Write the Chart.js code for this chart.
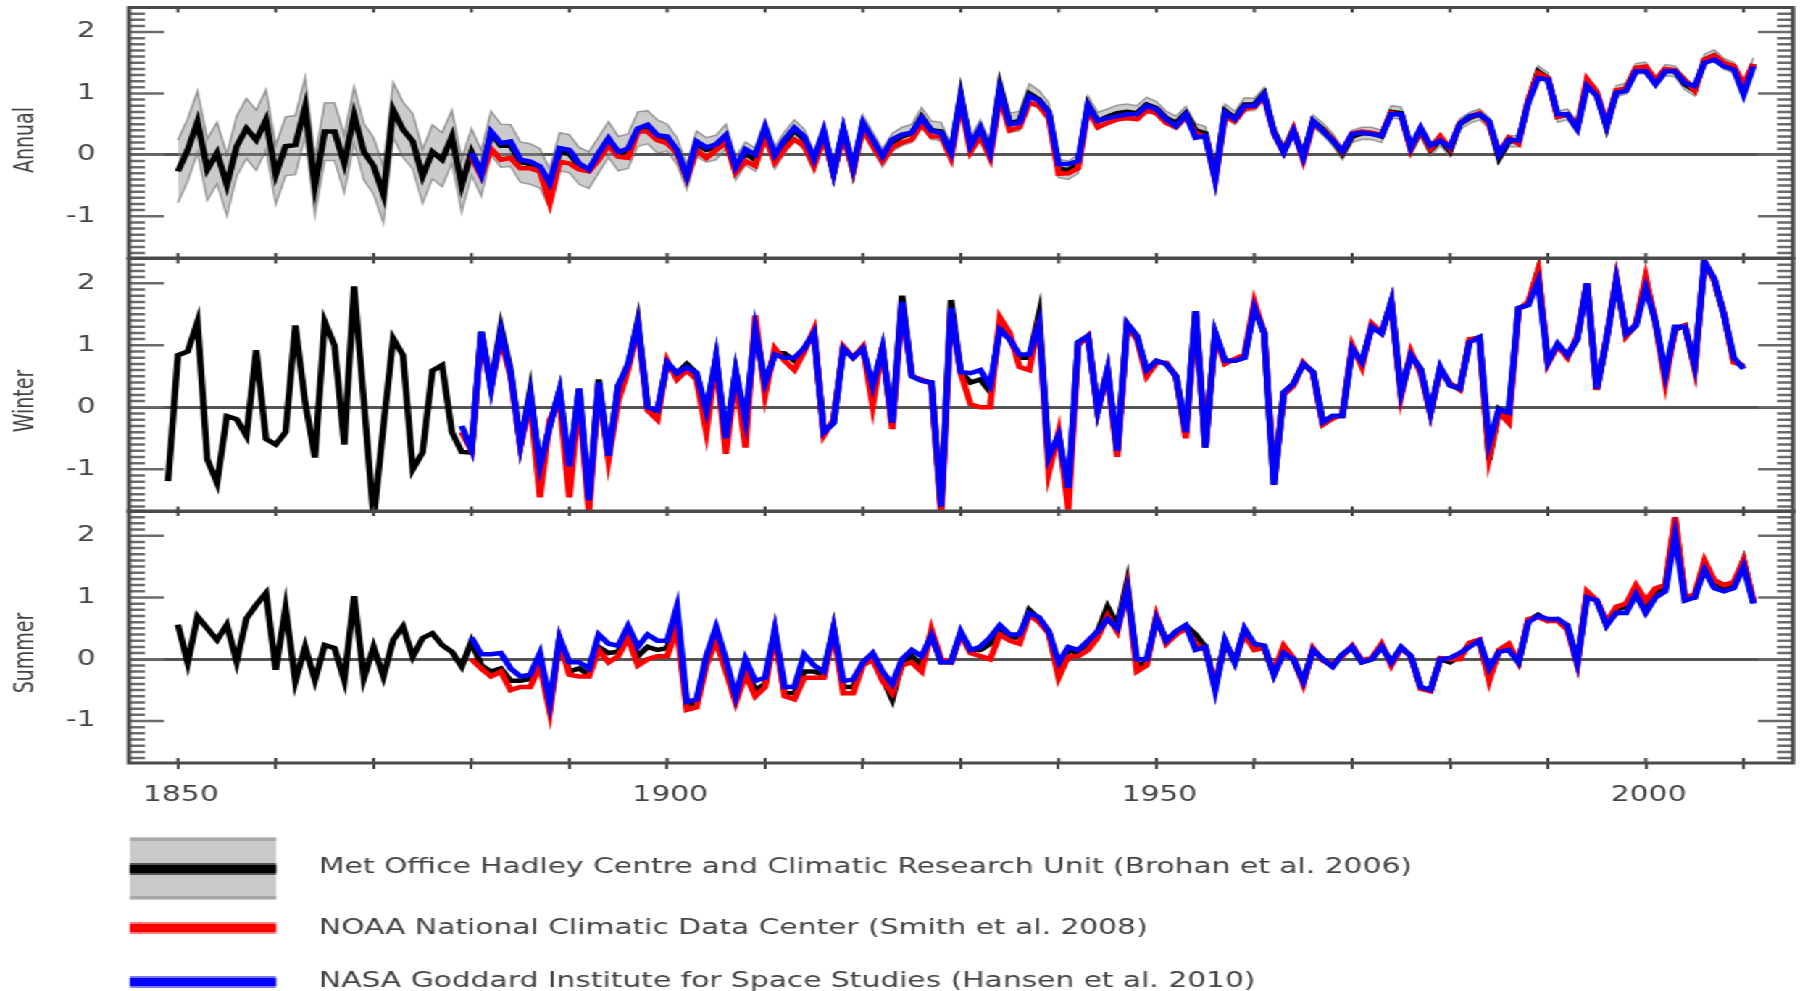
<!DOCTYPE html>
<html>
<head>
<meta charset="utf-8">
<title>Annual, winter and summer temperature anomalies</title>
<script src="https://cdn.jsdelivr.net/npm/chart.js@4.4.1/dist/chart.umd.min.js"></script>
<style>
    html, body { margin: 0; padding: 0; background: #fff; overflow: hidden; }
    /* the reference is a horizontally stretched figure, so draw narrow and stretch */
    #fig { position: absolute; left: 0; top: 0; width: 1242px; height: 991px; transform: scaleX(1.449275); transform-origin: 0 0; }
    #fig canvas { position: absolute; left: 0; top: 0; }
</style>
</head>
<body>
<div id="fig">
    <canvas id="panelAnnual" width="1242" height="991"></canvas>
    <canvas id="panelWinter" width="1242" height="991"></canvas>
    <canvas id="panelSummer" width="1242" height="991"></canvas>
</div>
<script>
(function (window, document) {
    'use strict';

    // ---- data -------------------------------------------------------------
    var panelNames = ['Annual', 'Winter', 'Summer'];
    var legendLabels = [
        'Met Office Hadley Centre and Climatic Research Unit (Brohan et al. 2006)',
        'NOAA National Climatic Data Center (Smith et al. 2008)',
        'NASA Goddard Institute for Space Studies (Hansen et al. 2010)'
    ];
    var xTickLabels = [1850, 1900, 1950, 2000];
    var decadeTicks = [1850, 1860, 1870, 1880, 1890, 1900, 1910, 1920, 1930, 1940, 1950, 1960, 1970, 1980, 1990, 2000, 2010];
    var yTickValues = [-1, 0, 1, 2];

    var hadleyStart = 1850;
    var winterHadleyStart = 1849;
    var otherStart = 1880;
    var winterOtherStart = 1879;

    var annualHadley = [
        -0.27, 0.08, 0.54, -0.24, 0.03, -0.49, 0.14, 0.43, 0.24, 0.57,
        -0.32, 0.14, 0.16, 0.78, -0.51, 0.38, 0.38, -0.14, 0.65, 0.05,
        -0.18, -0.65, 0.73, 0.41, 0.22, -0.35, 0.05, -0.08, 0.30, -0.50,
        0.05, -0.30, 0.35, 0.15, 0.15, -0.12, -0.15, -0.22, -0.55, 0.05,
        0.02, -0.18, -0.25, 0.00, 0.25, 0.02, 0.06, 0.42, 0.45, 0.30,
        0.28, 0.06, -0.36, 0.18, 0.08, 0.12, 0.30, -0.22, 0.02, -0.08,
        0.40, -0.05, 0.20, 0.40, 0.25, -0.12, 0.35, -0.30, 0.40, -0.25,
        0.50, 0.22, -0.05, 0.20, 0.30, 0.35, 0.62, 0.40, 0.38, 0.02,
        0.98, 0.15, 0.42, 0.05, 1.12, 0.52, 0.55, 1.00, 0.90, 0.70,
        -0.22, -0.25, -0.15, 0.82, 0.55, 0.62, 0.68, 0.70, 0.68, 0.82,
        0.76, 0.60, 0.52, 0.68, 0.40, 0.35, -0.35, 0.72, 0.60, 0.82,
        0.82, 1.00, 0.38, 0.06, 0.40, -0.02, 0.55, 0.42, 0.25, 0.02,
        0.30, 0.35, 0.35, 0.30, 0.70, 0.68, 0.10, 0.40, 0.08, 0.25,
        0.06, 0.50, 0.60, 0.66, 0.52, -0.05, 0.22, 0.22, 0.88, 1.36,
        1.25, 0.62, 0.66, 0.45, 1.18, 1.00, 0.45, 1.04, 1.08, 1.40,
        1.42, 1.18, 1.38, 1.36, 1.15, 1.05, 1.55, 1.62, 1.48, 1.42,
        1.08, 1.48
    ];
    // half width of the Hadley uncertainty band
    var annualUnc = [
        0.51, 0.51, 0.50, 0.50, 0.50, 0.50, 0.49, 0.49, 0.49, 0.49,
        0.48, 0.48, 0.48, 0.48, 0.47, 0.47, 0.47, 0.47, 0.46, 0.46,
        0.46, 0.46, 0.45, 0.45, 0.45, 0.44, 0.44, 0.44, 0.43, 0.43,
        0.38, 0.37, 0.36, 0.35, 0.34, 0.33, 0.33, 0.32, 0.32, 0.31,
        0.31, 0.30, 0.30, 0.29, 0.29, 0.28, 0.28, 0.28, 0.27, 0.27,
        0.22, 0.22, 0.21, 0.21, 0.20, 0.20, 0.20, 0.19, 0.19, 0.19,
        0.18, 0.18, 0.18, 0.17, 0.17, 0.17, 0.17, 0.16, 0.16, 0.16,
        0.15, 0.15, 0.15, 0.15, 0.15, 0.15, 0.15, 0.15, 0.15, 0.15,
        0.15, 0.15, 0.15, 0.15, 0.16, 0.16, 0.16, 0.16, 0.15, 0.15,
        0.15, 0.15, 0.15, 0.14, 0.14, 0.13, 0.13, 0.13, 0.12, 0.12,
        0.11, 0.11, 0.11, 0.11, 0.11, 0.11, 0.11, 0.11, 0.11, 0.11,
        0.10, 0.10, 0.10, 0.10, 0.10, 0.10, 0.10, 0.10, 0.10, 0.10,
        0.10, 0.10, 0.10, 0.10, 0.10, 0.10, 0.10, 0.10, 0.10, 0.10,
        0.09, 0.09, 0.09, 0.09, 0.09, 0.09, 0.09, 0.09, 0.09, 0.09,
        0.09, 0.09, 0.09, 0.09, 0.09, 0.09, 0.09, 0.09, 0.09, 0.09,
        0.09, 0.09, 0.09, 0.09, 0.09, 0.09, 0.09, 0.09, 0.09, 0.09,
        0.10, 0.10
    ];
    var annualNOAA = [
        -0.03, -0.35, 0.10, -0.08, -0.05, -0.22, -0.22, -0.27, -0.78, -0.11,
        -0.14, -0.24, -0.27, -0.08, 0.16, -0.03, -0.05, 0.38, 0.38, 0.24,
        0.19, 0.03, -0.38, 0.08, -0.05, 0.08, 0.20, -0.29, -0.10, -0.18,
        0.30, -0.12, 0.10, 0.25, 0.15, -0.18, 0.28, -0.28, 0.30, -0.25,
        0.42, 0.15, -0.10, 0.12, 0.20, 0.25, 0.50, 0.30, 0.30, -0.05,
        0.85, 0.05, 0.30, -0.05, 0.95, 0.40, 0.45, 0.85, 0.80, 0.60,
        -0.31, -0.30, -0.22, 0.75, 0.45, 0.52, 0.58, 0.60, 0.58, 0.72,
        0.68, 0.52, 0.45, 0.62, 0.35, 0.30, -0.40, 0.62, 0.55, 0.75,
        0.78, 0.95, 0.35, 0.05, 0.42, -0.08, 0.50, 0.40, 0.25, 0.05,
        0.35, 0.38, 0.36, 0.32, 0.68, 0.65, 0.08, 0.42, 0.10, 0.30,
        0.10, 0.52, 0.62, 0.68, 0.50, 0.02, 0.28, 0.18, 0.90, 1.33,
        1.25, 0.62, 0.66, 0.45, 1.23, 1.02, 0.50, 1.05, 1.08, 1.42,
        1.44, 1.22, 1.40, 1.38, 1.22, 1.05, 1.55, 1.62, 1.50, 1.45,
        1.15, 1.48
    ];
    var annualNASA = [
        0.03, -0.32, 0.38, 0.19, 0.22, -0.08, -0.11, -0.19, -0.46, 0.11,
        0.08, -0.14, -0.24, 0.03, 0.27, 0.05, 0.10, 0.43, 0.49, 0.32,
        0.30, 0.08, -0.35, 0.22, 0.12, 0.17, 0.32, -0.20, 0.09, 0.00,
        0.45, 0.00, 0.25, 0.44, 0.30, -0.07, 0.39, -0.29, 0.42, -0.20,
        0.52, 0.25, -0.02, 0.25, 0.33, 0.36, 0.60, 0.39, 0.36, 0.04,
        0.93, 0.15, 0.44, 0.04, 1.06, 0.50, 0.52, 0.96, 0.88, 0.69,
        -0.15, -0.15, -0.10, 0.80, 0.55, 0.60, 0.63, 0.66, 0.66, 0.80,
        0.74, 0.58, 0.47, 0.66, 0.28, 0.31, -0.40, 0.69, 0.58, 0.80,
        0.80, 0.98, 0.36, 0.04, 0.39, -0.04, 0.55, 0.39, 0.23, 0.06,
        0.34, 0.36, 0.34, 0.31, 0.66, 0.66, 0.12, 0.44, 0.15, 0.23,
        0.12, 0.50, 0.63, 0.66, 0.55, 0.01, 0.25, 0.23, 0.85, 1.25,
        1.23, 0.66, 0.66, 0.42, 1.12, 0.96, 0.47, 1.01, 1.04, 1.36,
        1.36, 1.15, 1.36, 1.36, 1.17, 1.12, 1.50, 1.55, 1.44, 1.39,
        0.98, 1.44
    ];

    var winterHadley = [
        -1.19,
        0.84, 0.90, 1.38, -0.84, -1.22, -0.14, -0.19, -0.46, 0.92, -0.51,
        -0.60, -0.40, 1.32, 0.08, -0.81, 1.38, 1.00, -0.60, 1.95, 0.10,
        -1.80, -0.30, 1.11, 0.84, -1.00, -0.73, 0.59, 0.68, -0.40, -0.72,
        -0.73, 1.22, 0.35, 1.30, 0.60, -0.60, 0.27, -1.00, -0.30, 0.27,
        -1.00, 0.30, -1.55, 0.45, -0.80, 0.35, 0.65, 1.40, 0.00, -0.08,
        0.72, 0.55, 0.70, 0.55, -0.10, 0.80, -0.55, 0.58, -0.30, 1.30,
        0.35, 0.88, 0.87, 0.75, 0.95, 1.20, -0.40, -0.25, 0.95, 0.80,
        0.95, 0.30, 0.95, -0.28, 1.80, 0.50, 0.43, 0.40, -1.62, 1.73,
        0.57, 0.40, 0.45, 0.25, 1.30, 1.10, 0.80, 0.80, 1.50, -0.85,
        -0.45, -1.40, 1.05, 1.15, -0.05, 0.60, -0.72, 1.35, 1.15, 0.58,
        0.75, 0.70, 0.50, -0.42, 1.55, -0.65, 1.20, 0.75, 0.75, 0.80,
        1.62, 1.20, -1.25, 0.24, 0.38, 0.70, 0.57, -0.24, -0.14, -0.14,
        0.95, 0.73, 1.30, 1.19, 1.70, 0.24, 0.84, 0.62, -0.08, 0.62,
        0.38, 0.30, 1.08, 1.13, -0.85, -0.03, -0.15, 1.60, 1.65, 2.20,
        0.73, 1.00, 0.82, 1.10, 2.00, 0.28, 1.10, 2.05, 1.15, 1.32,
        2.05, 1.38, 0.50, 1.25, 1.32, 0.65, 2.35, 2.05, 1.49, 0.75,
        0.65
    ];
    var winterNOAA = [
        -0.40,
        -0.70, 1.15, 0.35, 1.10, 0.50, -0.62, 0.10, -1.45, -0.20, 0.10,
        -1.45, 0.15, -1.70, 0.35, -0.85, 0.10, 0.60, 1.30, -0.05, -0.20,
        0.75, 0.45, 0.60, 0.45, -0.40, 0.75, -0.75, 0.50, -0.65, 1.48,
        0.20, 0.95, 0.75, 0.60, 0.90, 1.25, -0.45, -0.20, 0.98, 0.80,
        0.98, 0.02, 0.98, -0.35, 1.65, 0.50, 0.45, 0.38, -1.75, 1.55,
        0.55, 0.05, 0.00, 0.00, 1.45, 1.20, 0.65, 0.60, 1.40, -1.05,
        -0.40, -1.65, 1.00, 1.15, -0.05, 0.55, -0.80, 1.30, 1.10, 0.50,
        0.72, 0.72, 0.50, -0.50, 1.50, -0.60, 1.15, 0.70, 0.78, 0.85,
        1.70, 1.20, -1.15, 0.20, 0.35, 0.72, 0.55, -0.28, -0.18, -0.12,
        1.00, 0.65, 1.35, 1.20, 1.68, 0.18, 0.90, 0.55, -0.10, 0.62,
        0.38, 0.28, 1.10, 1.12, -0.80, -0.08, -0.25, 1.58, 1.70, 2.20,
        0.70, 1.00, 0.80, 1.15, 2.00, 0.28, 1.12, 2.08, 1.15, 1.35,
        2.10, 1.35, 0.40, 1.28, 1.32, 0.62, 2.35, 2.05, 1.50, 0.72,
        0.68
    ];
    var winterNASA = [
        -0.30,
        -0.68, 1.22, 0.30, 1.22, 0.55, -0.60, 0.20, -0.95, -0.30, 0.27,
        -0.95, 0.30, -1.50, 0.40, -0.78, 0.35, 0.70, 1.35, 0.00, -0.05,
        0.72, 0.55, 0.65, 0.55, -0.05, 0.80, -0.50, 0.58, -0.20, 1.25,
        0.40, 0.85, 0.80, 0.80, 0.95, 1.20, -0.40, -0.25, 0.95, 0.80,
        0.95, 0.35, 0.95, -0.25, 1.70, 0.50, 0.43, 0.40, -1.60, 1.60,
        0.57, 0.55, 0.60, 0.35, 1.25, 1.10, 0.85, 0.85, 1.35, -0.80,
        -0.45, -1.30, 1.05, 1.15, -0.05, 0.60, -0.70, 1.35, 1.15, 0.60,
        0.75, 0.70, 0.50, -0.40, 1.55, -0.65, 1.20, 0.75, 0.75, 0.80,
        1.60, 1.20, -1.25, 0.24, 0.38, 0.70, 0.57, -0.24, -0.14, -0.14,
        0.95, 0.73, 1.30, 1.19, 1.70, 0.24, 0.84, 0.62, -0.08, 0.65,
        0.35, 0.30, 1.05, 1.13, -0.57, -0.03, -0.08, 1.60, 1.65, 2.03,
        0.73, 1.03, 0.84, 1.10, 2.00, 0.30, 1.10, 2.05, 1.19, 1.32,
        1.92, 1.38, 0.54, 1.30, 1.30, 0.68, 2.35, 2.08, 1.49, 0.80,
        0.62
    ];

    var summerHadley = [
        0.56, -0.06, 0.69, 0.50, 0.31, 0.56, -0.04, 0.66, 0.88, 1.07,
        -0.17, 0.83, -0.36, 0.20, -0.34, 0.23, 0.18, -0.34, 1.02, -0.31,
        0.20, -0.28, 0.31, 0.53, 0.04, 0.34, 0.42, 0.23, 0.12, -0.12,
        0.29, -0.10, -0.20, -0.15, -0.35, -0.35, -0.32, 0.00, -0.78, 0.32,
        -0.20, -0.15, -0.25, 0.20, 0.10, 0.12, 0.45, 0.05, 0.20, 0.15,
        0.18, 0.65, -0.75, -0.70, 0.00, 0.40, -0.10, -0.65, -0.15, -0.50,
        -0.40, 0.45, -0.55, -0.55, -0.20, -0.20, -0.25, 0.50, -0.45, -0.45,
        -0.08, 0.05, -0.30, -0.65, -0.05, 0.05, -0.10, 0.42, -0.05, -0.05,
        0.42, 0.15, 0.15, 0.25, 0.50, 0.35, 0.35, 0.80, 0.65, 0.45,
        -0.20, 0.15, 0.10, 0.25, 0.45, 0.85, 0.55, 1.25, -0.10, -0.05,
        0.68, 0.30, 0.45, 0.55, 0.40, 0.20, -0.45, 0.30, -0.05, 0.48,
        0.20, 0.20, -0.25, 0.15, 0.00, -0.38, 0.15, 0.00, -0.12, 0.08,
        0.18, -0.05, 0.00, 0.22, -0.05, 0.18, 0.05, -0.45, -0.50, 0.00,
        -0.05, 0.05, 0.25, 0.28, -0.30, 0.12, 0.20, -0.05, 0.62, 0.72,
        0.62, 0.65, 0.52, -0.05, 1.05, 0.95, 0.55, 0.80, 0.85, 1.15,
        0.90, 1.10, 1.15, 2.25, 1.00, 1.00, 1.55, 1.25, 1.15, 1.20,
        1.60, 0.92
    ];
    var summerNOAA = [
        0.00, -0.15, -0.28, -0.20, -0.50, -0.45, -0.45, -0.10, -0.85, 0.30,
        -0.25, -0.28, -0.28, 0.15, -0.05, 0.05, 0.35, -0.10, 0.00, 0.05,
        0.05, 0.50, -0.82, -0.78, -0.10, 0.30, -0.20, -0.70, -0.25, -0.60,
        -0.45, 0.40, -0.60, -0.65, -0.30, -0.30, -0.30, 0.45, -0.55, -0.55,
        -0.10, 0.00, -0.35, -0.55, -0.10, -0.05, -0.20, 0.48, 0.00, -0.05,
        0.40, 0.10, 0.05, 0.00, 0.40, 0.30, 0.25, 0.72, 0.60, 0.42,
        -0.30, 0.05, 0.05, 0.15, 0.35, 0.70, 0.45, 1.15, -0.20, -0.10,
        0.70, 0.25, 0.40, 0.50, 0.25, 0.15, -0.40, 0.25, 0.00, 0.40,
        0.15, 0.18, -0.20, 0.22, 0.02, -0.40, 0.18, -0.02, -0.08, 0.05,
        0.22, -0.02, 0.02, 0.25, -0.10, 0.18, 0.05, -0.48, -0.52, 0.02,
        0.00, 0.00, 0.27, 0.32, -0.35, 0.15, 0.25, -0.05, 0.65, 0.68,
        0.62, 0.62, 0.48, -0.08, 1.10, 0.95, 0.60, 0.85, 0.90, 1.20,
        0.95, 1.15, 1.20, 2.30, 1.00, 1.05, 1.60, 1.28, 1.20, 1.25,
        1.60, 0.95
    ];
    var summerNASA = [
        0.35, 0.08, 0.08, 0.10, -0.15, -0.28, -0.25, 0.10, -0.70, 0.35,
        -0.05, -0.05, -0.15, 0.40, 0.25, 0.22, 0.54, 0.20, 0.40, 0.30,
        0.30, 0.85, -0.69, -0.65, 0.05, 0.52, 0.00, -0.60, 0.00, -0.35,
        -0.30, 0.48, -0.45, -0.45, 0.08, -0.10, -0.20, 0.50, -0.35, -0.33,
        -0.05, 0.10, -0.20, -0.40, 0.00, 0.15, 0.05, 0.38, -0.05, -0.05,
        0.45, 0.15, 0.20, 0.35, 0.55, 0.40, 0.40, 0.75, 0.68, 0.45,
        -0.05, 0.20, 0.15, 0.30, 0.45, 0.65, 0.50, 1.12, 0.00, 0.00,
        0.65, 0.30, 0.45, 0.55, 0.15, 0.20, -0.50, 0.30, -0.05, 0.50,
        0.25, 0.22, -0.25, 0.10, 0.00, -0.35, 0.15, 0.00, -0.12, 0.08,
        0.20, -0.05, 0.00, 0.20, -0.05, 0.20, 0.05, -0.45, -0.50, 0.00,
        0.02, 0.10, 0.20, 0.30, -0.15, 0.12, 0.15, -0.05, 0.60, 0.70,
        0.65, 0.65, 0.55, -0.05, 1.00, 0.95, 0.55, 0.75, 0.75, 1.05,
        0.75, 1.00, 1.10, 2.00, 0.95, 1.00, 1.45, 1.15, 1.10, 1.15,
        1.50, 0.90
    ];

    // ---- layout (x in full-width px is divided by S, the css stretch) ------
    var W = 1242, H = 991, S = 1800 / W;
    function fx(px) { return px / S; }

    var X_MIN = 1845.0, X_MAX = 2015.05;
    var Y_MIN = -1.68, Y_MAX = 2.4;
    var FRAME_L = fx(129), FRAME_R = fx(1793);
    var PANEL_TOP = [7.5, 258.5, 511];
    var PANEL_BOTTOM = [258, 511.5, 763];
    var TITLE_Y = [140, 401, 653];
    var X_AXIS_H = 50;
    var FONT = 'DejaVu Sans';
    var TEXT = '#444';
    var BLUE = '#0000ff', RED = '#ff0000', BLACK = '#000000';

    function toPoints(start, values) {
        return values.map(function (v, i) { return { x: start + i, y: v }; });
    }

    function lineSet(label, pts, color) {
        return { label: label, data: pts, borderColor: color, borderWidth: 4.5, pointRadius: 0, tension: 0, fill: false, clip: 0 };
    }

    function drawLegend(ctx) {
        var x0 = fx(130), w = fx(276) - fx(130);
        ctx.fillStyle = '#c9c9c9';
        ctx.fillRect(x0, 837, w, 63);
        ctx.fillStyle = '#a8a8a8';
        ctx.fillRect(x0, 838, w, 3);
        ctx.fillRect(x0, 896, w, 3);
        ctx.fillStyle = '#555';
        ctx.fillRect(x0, 863, w, 12);
        ctx.fillStyle = BLACK;
        ctx.fillRect(x0, 865, w, 8);
        ctx.fillStyle = '#ff7a7a';
        ctx.fillRect(x0, 922, w, 12);
        ctx.fillStyle = RED;
        ctx.fillRect(x0, 924, w, 8);
        ctx.fillStyle = '#7a7aff';
        ctx.fillRect(x0, 976, w, 12);
        ctx.fillStyle = BLUE;
        ctx.fillRect(x0, 978, w, 8);

        ctx.font = '20.5px "' + FONT + '"';
        ctx.fillStyle = TEXT;
        ctx.textAlign = 'left';
        ctx.textBaseline = 'middle';
        var ys = [868, 929, 982];
        legendLabels.forEach(function (t, i) { ctx.fillText(t, fx(319), ys[i]); });
    }

    // frame, inward ticks, panel title and (bottom panel only) the legend
    var decorPlugin = {
        id: 'decor',
        afterDraw: function (chart, args, opts) {
            var ctx = chart.ctx, a = chart.chartArea;
            var xs = chart.scales.x, ys = chart.scales.y;
            ctx.save();

            ctx.strokeStyle = '#6a6a6a';
            ctx.lineWidth = 2.5;
            for (var k = Math.ceil(Y_MIN * 10); k <= Math.floor(Y_MAX * 10); k++) {
                var y = ys.getPixelForValue(k / 10);
                var len = (k % 10 === 0) ? fx(35) : fx(16);
                ctx.beginPath();
                ctx.moveTo(a.left, y);
                ctx.lineTo(a.left + len, y);
                ctx.moveTo(a.right, y);
                ctx.lineTo(a.right - len, y);
                ctx.stroke();
            }

            ctx.strokeStyle = '#3a3a3a';
            ctx.lineWidth = 2;
            decadeTicks.forEach(function (yr) {
                var x = xs.getPixelForValue(yr);
                ctx.beginPath();
                ctx.moveTo(x, a.top);
                ctx.lineTo(x, a.top + 5);
                ctx.moveTo(x, a.bottom);
                ctx.lineTo(x, a.bottom - 5);
                ctx.stroke();
            });

            ctx.strokeStyle = '#4a4a4a';
            ctx.lineWidth = 3;
            ctx.strokeRect(a.left, a.top, a.right - a.left, a.bottom - a.top);

            ctx.translate(fx(26), opts.titleY);
            ctx.rotate(-Math.PI / 2);
            ctx.font = '19px "' + FONT + '"';
            ctx.fillStyle = TEXT;
            ctx.textAlign = 'center';
            ctx.textBaseline = 'middle';
            ctx.fillText(opts.title, 0, 0);
            ctx.setTransform(1, 0, 0, 1, 0, 0);

            if (opts.legend) {
                drawLegend(ctx);
            }
            ctx.restore();
        }
    };

    function makePanel(canvasId, idx, sets) {
        var showX = idx === 2;
        return new Chart(document.getElementById(canvasId), {
            type: 'line',
            data: { datasets: sets },
            options: {
                responsive: false,
                animation: false,
                events: [],
                layout: {
                    autoPadding: false,
                    padding: { left: 0, right: W - FRAME_R, top: PANEL_TOP[idx], bottom: H - PANEL_BOTTOM[idx] - (showX ? X_AXIS_H : 0) }
                },
                plugins: {
                    legend: { display: false },
                    tooltip: { enabled: false },
                    decor: { title: panelNames[idx], titleY: TITLE_Y[idx], legend: showX }
                },
                scales: {
                    x: {
                        type: 'linear',
                        min: X_MIN,
                        max: X_MAX,
                        display: showX,
                        border: { display: false },
                        grid: { drawOnChartArea: false, drawTicks: true, tickLength: 6, color: '#444', lineWidth: 2 },
                        afterBuildTicks: function (scale) {
                            scale.ticks = decadeTicks.map(function (v) { return { value: v }; });
                        },
                        ticks: {
                            autoSkip: false,
                            maxRotation: 0,
                            padding: 14,
                            labelOffset: fx(3),
                            color: TEXT,
                            font: { family: FONT, size: 20.5 },
                            callback: function (v) { return xTickLabels.indexOf(v) >= 0 ? String(v) : ''; }
                        },
                        afterFit: function (scale) {
                            // hidden axes of the upper panels must take no room
                            scale.height = showX ? X_AXIS_H : 0;
                            scale.paddingLeft = 0;
                            scale.paddingRight = 0;
                        }
                    },
                    y: {
                        type: 'linear',
                        min: Y_MIN,
                        max: Y_MAX,
                        border: { display: false },
                        grid: {
                            drawTicks: false,
                            lineWidth: 3,
                            color: function (c) { return c.tick && c.tick.value === 0 ? '#555' : 'rgba(0,0,0,0)'; }
                        },
                        afterBuildTicks: function (scale) {
                            scale.ticks = yTickValues.map(function (v) { return { value: v }; });
                        },
                        ticks: {
                            padding: 23,
                            color: TEXT,
                            font: { family: FONT, size: 20.5 },
                            callback: function (v) { return String(v); }
                        },
                        afterFit: function (scale) {
                            scale.width = FRAME_L;
                            scale.paddingTop = 0;
                            scale.paddingBottom = 0;
                        }
                    }
                }
            },
            plugins: [decorPlugin]
        });
    }

    // datasets listed top-most first: NASA over NOAA over Hadley over the band
    var bandUpper = annualHadley.map(function (v, i) { return v + annualUnc[i]; });
    var bandLower = annualHadley.map(function (v, i) { return v - annualUnc[i]; });

    makePanel('panelAnnual', 0, [
        lineSet('NASA', toPoints(otherStart, annualNASA), BLUE),
        lineSet('NOAA', toPoints(otherStart, annualNOAA), RED),
        lineSet('Hadley', toPoints(hadleyStart, annualHadley), BLACK),
        { label: 'upper', data: toPoints(hadleyStart, bandUpper), borderColor: 'rgba(100,100,100,0.6)', borderWidth: 1.5,
          backgroundColor: 'rgba(140,140,140,0.45)', fill: '+1', pointRadius: 0, tension: 0, clip: 0 },
        { label: 'lower', data: toPoints(hadleyStart, bandLower), borderColor: 'rgba(100,100,100,0.6)', borderWidth: 1.5,
          fill: false, pointRadius: 0, tension: 0, clip: 0 }
    ]);

    makePanel('panelWinter', 1, [
        lineSet('NASA', toPoints(winterOtherStart, winterNASA), BLUE),
        lineSet('NOAA', toPoints(winterOtherStart, winterNOAA), RED),
        lineSet('Hadley', toPoints(winterHadleyStart, winterHadley), BLACK)
    ]);

    makePanel('panelSummer', 2, [
        lineSet('NASA', toPoints(otherStart, summerNASA), BLUE),
        lineSet('NOAA', toPoints(otherStart, summerNOAA), RED),
        lineSet('Hadley', toPoints(hadleyStart, summerHadley), BLACK)
    ]);
})(window, document);
</script>
</body>
</html>
